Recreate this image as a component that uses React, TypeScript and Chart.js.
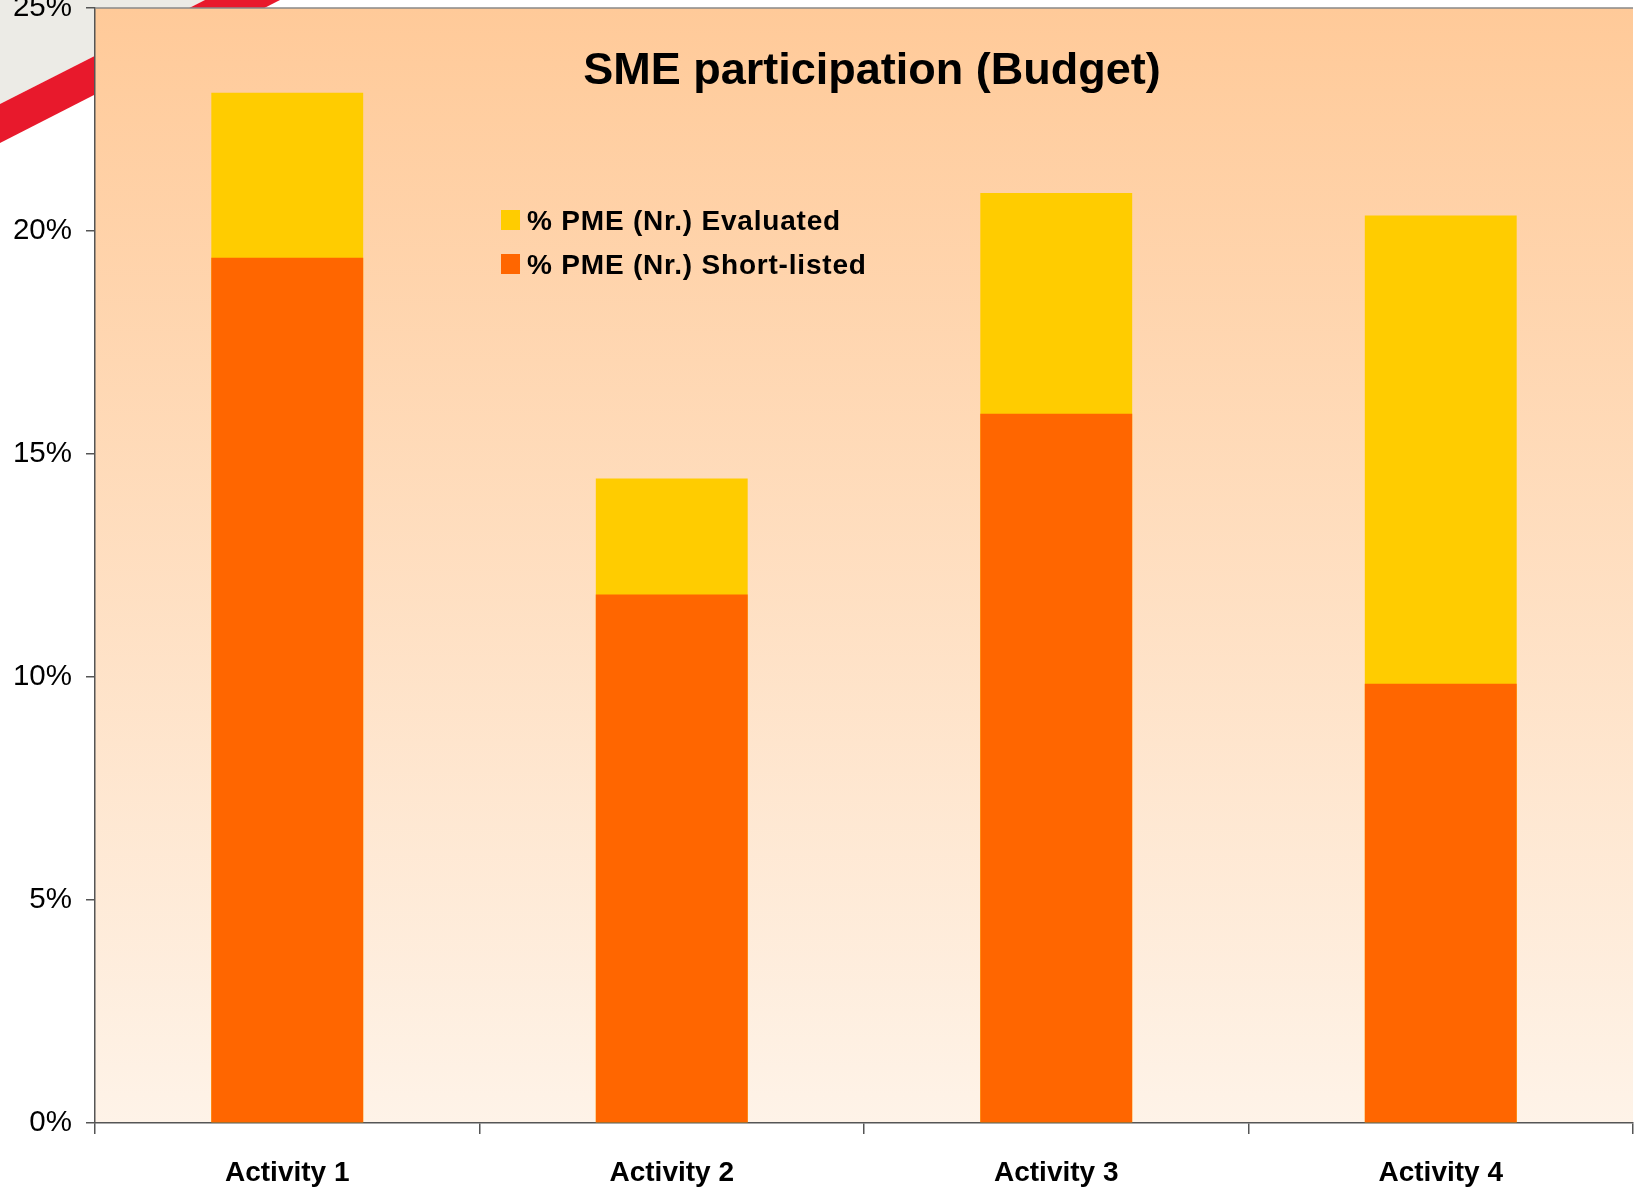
import React, { useEffect, useRef } from 'react';
import { Chart, registerables } from 'chart.js';
Chart.register(...registerables);

const categories = ['Activity 1', 'Activity 2', 'Activity 3', 'Activity 4'];
const evaluated = [23.1, 14.45, 20.85, 20.35];
const shortListed = [19.4, 11.85, 15.9, 9.85];
const seriesLabels = ['% PME (Nr.) Evaluated', '% PME (Nr.) Short-listed'];
const seriesColors = ['#FFCC00', '#FF6600'];
const titleText = 'SME participation (Budget)';
const yMax = 25;
const yStep = 5;

const FONT = "'Liberation Sans', Arial, sans-serif";

const decorPlugin = {
  id: 'decor',
  beforeDraw(chart: any) {
    const { ctx, chartArea, width, height } = chart;
    ctx.save();
    ctx.fillStyle = '#ffffff';
    ctx.fillRect(0, 0, width, height);
    // slide background artifacts (top-left)
    ctx.fillStyle = '#ECEBE6';
    ctx.beginPath();
    ctx.moveTo(0, 0);
    ctx.lineTo(205, 0);
    ctx.lineTo(0, 104);
    ctx.closePath();
    ctx.fill();
    ctx.fillStyle = '#E8192C';
    ctx.beginPath();
    ctx.moveTo(0, 104);
    ctx.lineTo(205, 0);
    ctx.lineTo(280, 0);
    ctx.lineTo(0, 143);
    ctx.closePath();
    ctx.fill();
    // plot background gradient
    const g = ctx.createLinearGradient(0, chartArea.top, 0, chartArea.bottom);
    g.addColorStop(0, '#FFCA99');
    g.addColorStop(1, '#FEF3E8');
    ctx.fillStyle = g;
    ctx.fillRect(chartArea.left, chartArea.top, chartArea.right - chartArea.left, chartArea.bottom - chartArea.top);
    ctx.restore();
  },
  afterDraw(chart: any) {
    const { ctx, chartArea } = chart;
    ctx.save();
    // top border
    ctx.strokeStyle = '#888888';
    ctx.lineWidth = 1.5;
    ctx.beginPath();
    ctx.moveTo(chartArea.left, chartArea.top);
    ctx.lineTo(chartArea.right, chartArea.top);
    ctx.stroke();
    // title
    ctx.fillStyle = '#000000';
    ctx.font = `bold 45px ${FONT}`;
    ctx.textAlign = 'center';
    ctx.textBaseline = 'alphabetic';
    ctx.fillText(titleText, 872, 84);
    // legend
    ctx.font = `bold 28px ${FONT}`;
    ctx.textAlign = 'left';
    (ctx as any).letterSpacing = '0.8px';
    const rows = [
      { label: seriesLabels[0], color: seriesColors[0], base: 230 },
      { label: seriesLabels[1], color: seriesColors[1], base: 274 },
    ];
    rows.forEach((r) => {
      ctx.fillStyle = r.color;
      ctx.fillRect(501, r.base - 20, 19, 20);
      ctx.fillStyle = '#000000';
      ctx.fillText(r.label, 527, r.base);
    });
    (ctx as any).letterSpacing = '0px';
    ctx.restore();
  },
};

export default function App() {
  const ref = useRef<HTMLCanvasElement | null>(null);
  useEffect(() => {
    if (!ref.current) return;
    const chart = new Chart(ref.current, {
      type: 'bar',
      data: {
        labels: categories,
        datasets: [
          {
            label: seriesLabels[1],
            data: shortListed,
            backgroundColor: seriesColors[1],
            grouped: false,
            barPercentage: 0.395,
            categoryPercentage: 1,
          } as any,
          {
            label: seriesLabels[0],
            data: evaluated,
            backgroundColor: seriesColors[0],
            grouped: false,
            barPercentage: 0.395,
            categoryPercentage: 1,
          } as any,
        ],
      },
      options: {
        animation: false,
        responsive: true,
        maintainAspectRatio: false,
        layout: { padding: { top: 0, right: 1, left: 0, bottom: 0 } },
        plugins: {
          legend: { display: false },
          tooltip: { enabled: false },
          title: { display: false },
        },
        scales: {
          x: {
            type: 'category',
            offset: true,
            grid: {
              offset: true,
              drawOnChartArea: false,
              drawTicks: true,
              tickLength: 11,
              color: '#555555',
              lineWidth: 1.5,
            },
            border: { display: true, color: '#555555', width: 1.5 },
            ticks: {
              color: '#000000',
              font: { family: FONT, size: 28, weight: 'bold' },
              padding: 22,
              maxRotation: 0,
              autoSkip: false,
            },
            afterFit: (s: any) => {
              s.height = 65;
              s.paddingLeft = 0;
              s.paddingRight = 0;
            },
          },
          y: {
            min: 0,
            max: yMax,
            grid: {
              drawOnChartArea: false,
              drawTicks: true,
              tickLength: 9,
              color: '#555555',
              lineWidth: 1.5,
            },
            border: { display: true, color: '#555555', width: 1.5 },
            ticks: {
              stepSize: yStep,
              color: '#000000',
              font: { family: FONT, size: 29.5 },
              padding: 14,
              callback: (v: any) => `${v}%`,
            },
            afterFit: (s: any) => {
              s.width = 95;
              s.paddingTop = 8;
              s.paddingBottom = 0;
            },
          },
        },
      } as any,
      plugins: [decorPlugin],
    });
    return () => chart.destroy();
  }, []);
  return (
    <div style={{ position: 'fixed', left: 0, top: 0, width: 1634, height: 1188 }}>
      <canvas ref={ref} />
    </div>
  );
}
